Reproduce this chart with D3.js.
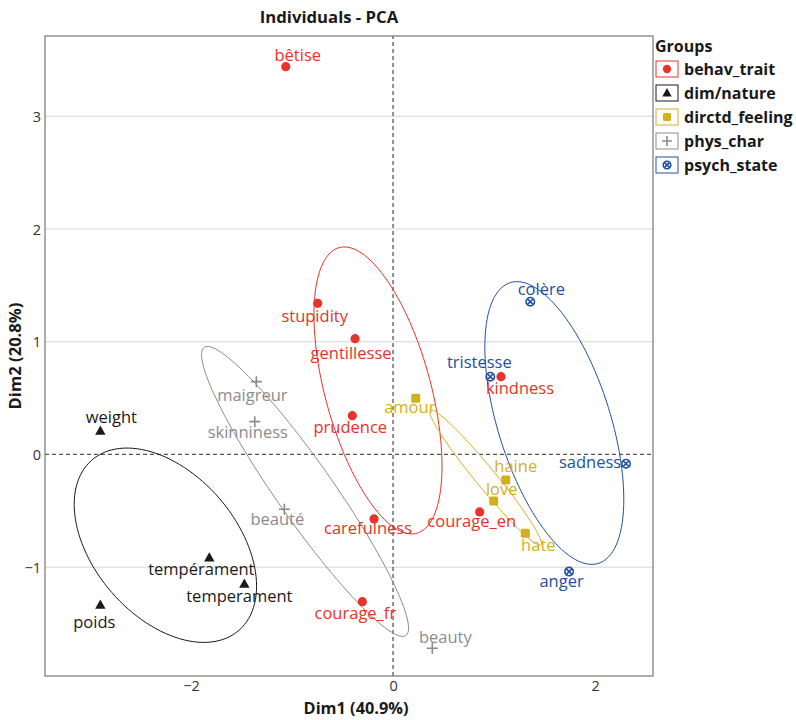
<!DOCTYPE html>
<html>
<head>
<meta charset="utf-8">
<script src="https://cdn.jsdelivr.net/npm/d3@7"></script>
<style>
  body { margin: 0; background: #fff; }
  svg { font-family: "Open Sans", "Noto Sans", sans-serif; }
</style>
</head>
<body>
<script>
// individuals (Dim1, Dim2 coordinates)
var names = ["bêtise", "stupidity", "gentillesse", "prudence", "carefulness", "courage_fr", "kindness", "courage_en",
  "weight", "tempérament", "temperament", "poids",
  "amour", "haine", "love", "hate",
  "maigreur", "skinniness", "beauté", "beauty",
  "colère", "tristesse", "sadness", "anger"];
var groups = ["behav_trait", "behav_trait", "behav_trait", "behav_trait", "behav_trait", "behav_trait", "behav_trait", "behav_trait",
  "dim/nature", "dim/nature", "dim/nature", "dim/nature",
  "dirctd_feeling", "dirctd_feeling", "dirctd_feeling", "dirctd_feeling",
  "phys_char", "phys_char", "phys_char", "phys_char",
  "psych_state", "psych_state", "psych_state", "psych_state"];
var dim1 = [-1.062, -0.746, -0.376, -0.403, -0.188, -0.304, 1.069, 0.858,
  -2.898, -1.819, -1.472, -2.898,
  0.225, 1.116, 0.997, 1.310,
  -1.353, -1.369, -1.076, 0.389,
  1.359, 0.963, 2.307, 1.743];
var dim2 = [3.44, 1.341, 1.027, 0.344, -0.572, -1.306, 0.690, -0.510,
  0.208, -0.915, -1.149, -1.335,
  0.498, -0.226, -0.412, -0.699,
  0.646, 0.291, -0.486, -1.719,
  1.355, 0.690, -0.082, -1.039];

// group ellipses: centre, spread and correlation (data units)
var ellipseGroup = ["behav_trait", "dim/nature", "dirctd_feeling", "phys_char", "psych_state"];
var ellipseCx = [-0.149, -2.254, 0.916, -0.871, 1.597];
var ellipseCy = [0.568, -0.805, -0.204, -0.328, 0.279];
var ellipseSx = [0.634, 0.903, 0.554, 1.025, 0.688];
var ellipseSy = [1.273, 0.862, 0.601, 1.286, 1.254];
var ellipseR = [-0.526, -0.421, -0.973, -0.943, -0.539];

var xTicks = [-2, 0, 2];
var yTicks = [-1, 0, 1, 2, 3];

var groupNames = ["behav_trait", "dim/nature", "dirctd_feeling", "phys_char", "psych_state"];
var groupColors = ["#E8322A", "#1A1A1A", "#D3B01B", "#8C8C8C", "#2350A0"];

// label placement (pixel offsets from the point: text centre, baseline)
var labelNudge = {
  "bêtise": [12, -6], "stupidity": [-3, 19], "gentillesse": [-4, 20], "prudence": [-2, 17],
  "carefulness": [-6, 15], "courage_fr": [-7, 17], "kindness": [19, 17], "courage_en": [-8, 15],
  "weight": [11, -8], "tempérament": [-8, 17], "temperament": [-5, 18], "poids": [-6, 23],
  "amour": [-6, 15], "haine": [10, -8], "love": [8, -6], "hate": [13, 18],
  "maigreur": [-4, 19], "skinniness": [-7, 16], "beauté": [-7, 16], "beauty": [13, -5],
  "colère": [11, -7], "tristesse": [-11, -9], "sadness": [-36, 4], "anger": [-7.5, 15]
};

var width = 796, height = 720;
var margin = { left: 45, right: 143, top: 36, bottom: 44 };

var color = d3.scaleOrdinal().domain(groupNames).range(groupColors);

var svg = d3.select("body").append("svg")
  .attr("width", width)
  .attr("height", height);

var x = d3.scaleLinear().domain([-3.446, 2.574]).range([margin.left, width - margin.right]);
var y = d3.scaleLinear().domain([-1.965, 3.712]).range([height - margin.bottom, margin.top]);

var points = names.map(function (n, i) {
  return { name: n, group: groups[i], x: dim1[i], y: dim2[i] };
});

// grid (horizontal only)
svg.append("g").selectAll("line").data(yTicks.filter(function (t) { return t !== 0; })).enter().append("line")
  .attr("x1", x.range()[0]).attr("x2", x.range()[1])
  .attr("y1", function (d) { return y(d); }).attr("y2", function (d) { return y(d); })
  .attr("stroke", "#d6d6d6").attr("stroke-width", 1);

// reference lines
svg.append("line")
  .attr("x1", x.range()[0]).attr("x2", x.range()[1])
  .attr("y1", y(0)).attr("y2", y(0))
  .attr("stroke", "#555").attr("stroke-width", 1.2).attr("stroke-dasharray", "4,3");
svg.append("line")
  .attr("x1", x(0)).attr("x2", x(0))
  .attr("y1", y.range()[0]).attr("y2", y.range()[1])
  .attr("stroke", "#222").attr("stroke-width", 1).attr("stroke-dasharray", "4,3");

// ellipses
var ellipses = ellipseGroup.map(function (g, i) {
  var pts = d3.range(0, 121).map(function (k) {
    var t = k / 120 * 2 * Math.PI;
    var r = ellipseR[i];
    return [
      x(ellipseCx[i] + ellipseSx[i] * Math.cos(t)),
      y(ellipseCy[i] + ellipseSy[i] * (r * Math.cos(t) + Math.sqrt(1 - r * r) * Math.sin(t)))
    ];
  });
  return { group: g, pts: pts };
});
svg.append("g").selectAll("path").data(ellipses).enter().append("path")
  .attr("d", function (d) { return d3.line()(d.pts) + "Z"; })
  .attr("fill", "none")
  .attr("stroke", function (d) { return color(d.group); })
  .attr("stroke-width", 1);

// markers
function drawMarker(sel, group, size) {
  var c = color(group);
  var s = size;
  if (group === "behav_trait") {
    sel.append("circle").attr("r", s * 0.46).attr("fill", c);
  } else if (group === "dim/nature") {
    sel.append("path").attr("d", "M0," + (-s * 0.55) + "L" + (s * 0.52) + "," + (s * 0.38) + "L" + (-s * 0.52) + "," + (s * 0.38) + "Z").attr("fill", c);
  } else if (group === "dirctd_feeling") {
    sel.append("rect").attr("x", -s * 0.45).attr("y", -s * 0.45).attr("width", s * 0.9).attr("height", s * 0.9)
      .attr("rx", 1.5).attr("fill", c);
  } else if (group === "phys_char") {
    sel.append("path").attr("d", "M" + (-s * 0.55) + ",0H" + (s * 0.55) + "M0," + (-s * 0.55) + "V" + (s * 0.55))
      .attr("stroke", c).attr("stroke-width", 1.6).attr("fill", "none");
  } else {
    var rr = s * 0.42;
    var q = rr * 0.7071;
    sel.append("circle").attr("r", rr).attr("fill", "none").attr("stroke", c).attr("stroke-width", 1.6);
    sel.append("path").attr("d", "M" + (-q) + "," + (-q) + "L" + q + "," + q + "M" + q + "," + (-q) + "L" + (-q) + "," + q)
      .attr("stroke", c).attr("stroke-width", 1.6);
  }
}

var pg = svg.append("g").selectAll("g").data(points).enter().append("g")
  .attr("transform", function (d) { return "translate(" + x(d.x) + "," + y(d.y) + ")"; });
pg.each(function (d) { drawMarker(d3.select(this), d.group, 10); });

// labels
svg.append("g").selectAll("text").data(points).enter().append("text")
  .attr("x", function (d) { return x(d.x) + labelNudge[d.name][0]; })
  .attr("y", function (d) { return y(d.y) + labelNudge[d.name][1]; })
  .attr("text-anchor", "middle")
  .attr("font-size", 16.5)
  .attr("fill", function (d) { return color(d.group); })
  .text(function (d) { return d.name; });

// panel border
svg.append("rect")
  .attr("x", x.range()[0]).attr("y", y.range()[1])
  .attr("width", x.range()[1] - x.range()[0]).attr("height", y.range()[0] - y.range()[1])
  .attr("fill", "none").attr("stroke", "#777").attr("stroke-width", 1.2);

// axes
var xAxis = svg.append("g")
  .attr("transform", "translate(0," + y.range()[0] + ")")
  .call(d3.axisBottom(x).tickValues(xTicks).tickSize(0).tickPadding(3).tickFormat(d3.format("d")));
var yAxis = svg.append("g")
  .attr("transform", "translate(" + x.range()[0] + ",0)")
  .call(d3.axisLeft(y).tickValues(yTicks).tickSize(0).tickPadding(4).tickFormat(d3.format("d")));
[xAxis, yAxis].forEach(function (a) {
  a.select(".domain").remove();
  a.selectAll("text").attr("font-size", 14.5).attr("fill", "#333").attr("font-family", "\"Open Sans\", sans-serif");
});
xAxis.selectAll("text").attr("dy", "0.8em");
yAxis.selectAll("text").attr("dy", "0.35em");

// titles
svg.append("text")
  .attr("x", 329).attr("y", 23)
  .attr("text-anchor", "middle").attr("font-size", 16.7).attr("font-weight", "bold").attr("fill", "#1a1a1a")
  .text("Individuals - PCA");
svg.append("text")
  .attr("x", 356).attr("y", 714)
  .attr("text-anchor", "middle").attr("font-size", 16.3).attr("font-weight", "bold").attr("fill", "#1a1a1a")
  .text("Dim1 (40.9%)");
svg.append("text")
  .attr("transform", "translate(21," + ((y.range()[0] + y.range()[1]) / 2) + ") rotate(-90)")
  .attr("text-anchor", "middle").attr("font-size", 16.6).attr("font-weight", "bold").attr("fill", "#1a1a1a")
  .text("Dim2 (20.8%)");

// legend
var legend = svg.append("g").attr("transform", "translate(655,0)");
legend.append("text").attr("x", 0).attr("y", 52)
  .attr("font-size", 16).attr("font-weight", "bold").attr("fill", "#1a1a1a").text("Groups");
var items = legend.selectAll("g.item").data(groupNames).enter().append("g")
  .attr("class", "item")
  .attr("transform", function (d, i) { return "translate(0," + (69 + i * 24) + ")"; });
items.append("rect")
  .attr("x", 1).attr("y", -8).attr("width", 22).attr("height", 16)
  .attr("fill", "#fff").attr("stroke", function (d) { return color(d); }).attr("stroke-width", 1);
items.each(function (d) {
  var g = d3.select(this).append("g").attr("transform", "translate(12,0)");
  drawMarker(g, d, 9);
});
items.append("text").attr("x", 29).attr("y", 0).attr("dy", "0.35em")
  .attr("font-size", 16).attr("font-weight", "bold").attr("fill", "#1a1a1a")
  .text(function (d) { return d; });
</script>
</body>
</html>
